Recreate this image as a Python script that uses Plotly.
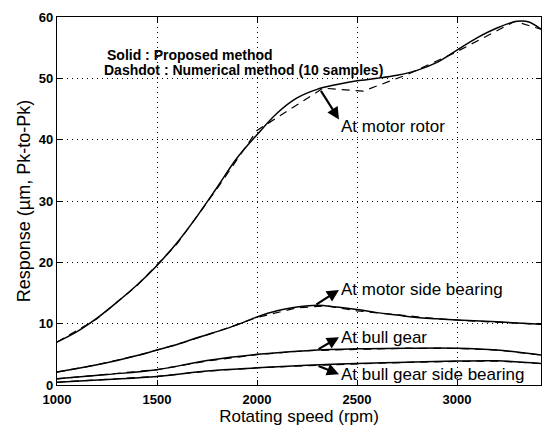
import plotly.graph_objects as go

# ---- data ----
rotor_x = [1000, 1100, 1200, 1300, 1400, 1500, 1600, 1700, 1800, 1900, 2000, 2100, 2200,
           2300, 2400, 2500, 2600, 2700, 2800, 2900, 3000, 3100, 3200, 3300, 3360, 3420]
rotor_y = [7.0, 8.7, 10.9, 13.5, 16.3, 19.5, 23.2, 27.5, 32.2, 37.0, 40.8, 44.3, 46.8,
           48.2, 49.0, 49.6, 50.0, 50.5, 51.3, 52.6, 54.6, 56.6, 58.2, 59.3, 59.2, 58.0]
rotor_num_x = [1000, 1200, 1400, 1600, 1800, 2000, 2330, 2530, 2750, 2990, 3290, 3420]
rotor_num_y = [7.0, 10.8, 16.2, 23.0, 32.0, 41.5, 48.4, 47.9, 50.6, 54.2, 59.3, 58.0]

msb_x = [1000, 1100, 1200, 1300, 1400, 1500, 1600, 1700, 1800, 1900, 2000, 2100, 2200,
         2300, 2400, 2500, 2600, 2700, 2800, 2900, 3000, 3200, 3420]
msb_y = [2.1, 2.7, 3.3, 4.0, 4.8, 5.7, 6.6, 7.7, 8.7, 9.8, 11.1, 12.1, 12.7,
         13.0, 12.7, 12.3, 11.8, 11.4, 11.0, 10.8, 10.6, 10.3, 9.9]
msb_num_x = [1000, 1200, 1400, 1600, 1800, 2000, 2200, 2350, 2500, 2700, 2900, 3100, 3420]
msb_num_y = [2.1, 3.3, 4.8, 6.6, 8.7, 11.0, 12.6, 12.9, 12.1, 11.4, 10.8, 10.4, 9.9]

bg_x = [1000, 1250, 1500, 1750, 2000, 2250, 2500, 2750, 3000, 3200, 3420]
bg_y = [1.0, 1.7, 2.5, 4.0, 5.0, 5.6, 5.9, 6.0, 6.0, 5.7, 4.9]
bg_num_x = [1000, 1250, 1500, 1750, 2000, 2250, 2500, 2750, 3000, 3200, 3420]
bg_num_y = [1.0, 1.7, 2.5, 3.9, 4.95, 5.6, 5.85, 6.0, 5.95, 5.7, 4.9]

bgsb_x = [1000, 1250, 1500, 1750, 2000, 2250, 2500, 2750, 3000, 3200, 3420]
bgsb_y = [0.45, 0.9, 1.4, 2.3, 2.8, 3.2, 3.5, 3.7, 3.9, 3.95, 3.5]
bgsb_num_x = [1000, 1250, 1500, 1750, 2000, 2250, 2500, 2750, 3000, 3200, 3420]
bgsb_num_y = [0.45, 0.9, 1.4, 2.25, 2.8, 3.15, 3.45, 3.7, 3.85, 3.9, 3.5]

labels = ["At motor rotor", "At motor side bearing", "At bull gear", "At bull gear side bearing"]
label_tail_x = [2315, 2290, 2300, 2300]
label_tail_y = [48.2, 13.0, 5.7, 3.2]
label_head_x = [2410, 2410, 2410, 2410]
label_head_y = [43.3, 15.5, 7.8, 1.75]
label_text_y = [42.2, 15.5, 7.8, 1.75]

x_ticks = [1000, 1500, 2000, 2500, 3000]
y_ticks = [0, 10, 20, 30, 40, 50, 60]

FONT = "Liberation Sans, Arial, Helvetica, sans-serif"

fig = go.Figure()

solid_sets = [(rotor_x, rotor_y), (msb_x, msb_y), (bg_x, bg_y), (bgsb_x, bgsb_y)]
dash_sets = [(rotor_num_x, rotor_num_y), (msb_num_x, msb_num_y),
             (bg_num_x, bg_num_y), (bgsb_num_x, bgsb_num_y)]

for xs, ys in dash_sets:
    fig.add_trace(go.Scatter(x=xs, y=ys, mode="lines",
                             line=dict(color="black", width=1.2, dash="8px,6px"),
                             showlegend=False, hoverinfo="skip"))
for xs, ys in solid_sets:
    fig.add_trace(go.Scatter(x=xs, y=ys, mode="lines",
                             line=dict(color="black", width=1.5, shape="spline", smoothing=1.0),
                             showlegend=False, hoverinfo="skip"))

annotations = []
for t, tx, ty, hx, hy, ly in zip(labels, label_tail_x, label_tail_y,
                                 label_head_x, label_head_y, label_text_y):
    annotations.append(dict(x=hx, y=hy, ax=tx, ay=ty, xref="x", yref="y",
                            axref="x", ayref="y", text="", showarrow=True,
                            arrowhead=2, arrowsize=1.1, arrowwidth=2.2,
                            arrowcolor="black", standoff=0))
    annotations.append(dict(x=hx, y=ly, xref="x", yref="y", text=t, showarrow=False,
                            xanchor="left", yanchor="middle",
                            font=dict(family=FONT, size=17, color="black")))

annotations.append(dict(x=1240, y=53.8, xref="x", yref="y", text="Solid : Proposed method",
                        showarrow=False, xanchor="left", yanchor="middle",
                        font=dict(family=FONT, size=14, color="black", weight="bold")))
annotations.append(dict(x=1225, y=51.3, xref="x", yref="y",
                        text="Dashdot : Numerical method (10 samples)",
                        showarrow=False, xanchor="left", yanchor="middle",
                        font=dict(family=FONT, size=14, color="black", weight="bold")))

fig.update_layout(
    width=544, height=426,
    margin=dict(l=57, r=3, t=17, b=41),
    paper_bgcolor="white", plot_bgcolor="white",
    annotations=annotations,
    font=dict(family=FONT, color="black"),
)
fig.update_xaxes(
    range=[1000, 3420], tickvals=x_ticks, ticktext=[str(v) for v in x_ticks],
    showline=True, linecolor="black", linewidth=1.2, mirror="ticks",
    ticks="inside", ticklen=5, tickcolor="black",
    showgrid=True, gridcolor="black", gridwidth=1, griddash="1px,4px",
    zeroline=False, ticklabelstandoff=2, automargin=False,
    tickfont=dict(family=FONT, size=13, color="black", weight="bold"),
    title=dict(text="Rotating speed (rpm)", standoff=5,
               font=dict(family=FONT, size=17, color="black")),
)
fig.update_yaxes(
    range=[0, 60], tickvals=y_ticks, ticktext=[str(v) for v in y_ticks],
    showline=True, linecolor="black", linewidth=1.2, mirror="ticks",
    ticks="inside", ticklen=5, tickcolor="black",
    showgrid=True, gridcolor="black", gridwidth=1, griddash="1px,4px",
    zeroline=False,
    tickfont=dict(family=FONT, size=13, color="black", weight="bold"),
    title=dict(text="Response (µm, Pk-to-Pk)", standoff=3,
               font=dict(family=FONT, size=18, color="black")),
)

fig.write_html("out.html")
